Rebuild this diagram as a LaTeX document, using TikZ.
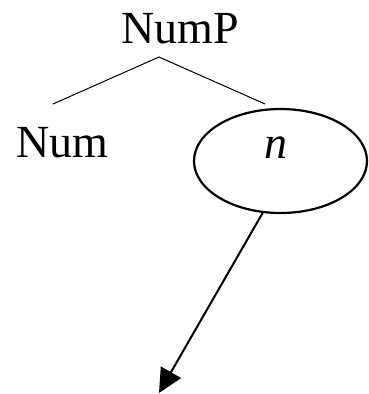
\documentclass[tikz,border=0pt]{standalone}
\usepackage{fontspec}
\setmainfont{Liberation Serif}
\usetikzlibrary{arrows.meta,shapes.geometric}
\begin{document}
\begin{tikzpicture}[x=1pt,y=-1pt,
  lab/.style={inner sep=0pt, font=\fontsize{46}{54}\selectfont},
  ell/.style={draw, ellipse, line width=2.2pt, inner sep=0pt, minimum width=173pt, minimum height=104pt},
  branch/.style={line width=1pt},
  arr/.style={line width=2pt, -{Triangle[length=24pt,width=23pt]}}]
\useasboundingbox (0,0) rectangle (369,394);
\node[lab, anchor=base] (NumP) at (180.5,43) {NumP};
\node[lab, anchor=base] (Num) at (62.5,157) {Num};
\node[ell] (E) at (280.5,161) {};
\node[lab, anchor=base] (n) at (276,158) {\textit{n}};
\coordinate (apex) at (159,57);
\coordinate (lend) at (53,104);
\coordinate (rend) at (265,104);
\coordinate (tip) at (159,393);
\draw[branch] (lend) -- (apex) -- (rend);
\draw[arr] (E.-109) -- (tip);
\end{tikzpicture}
\end{document}
